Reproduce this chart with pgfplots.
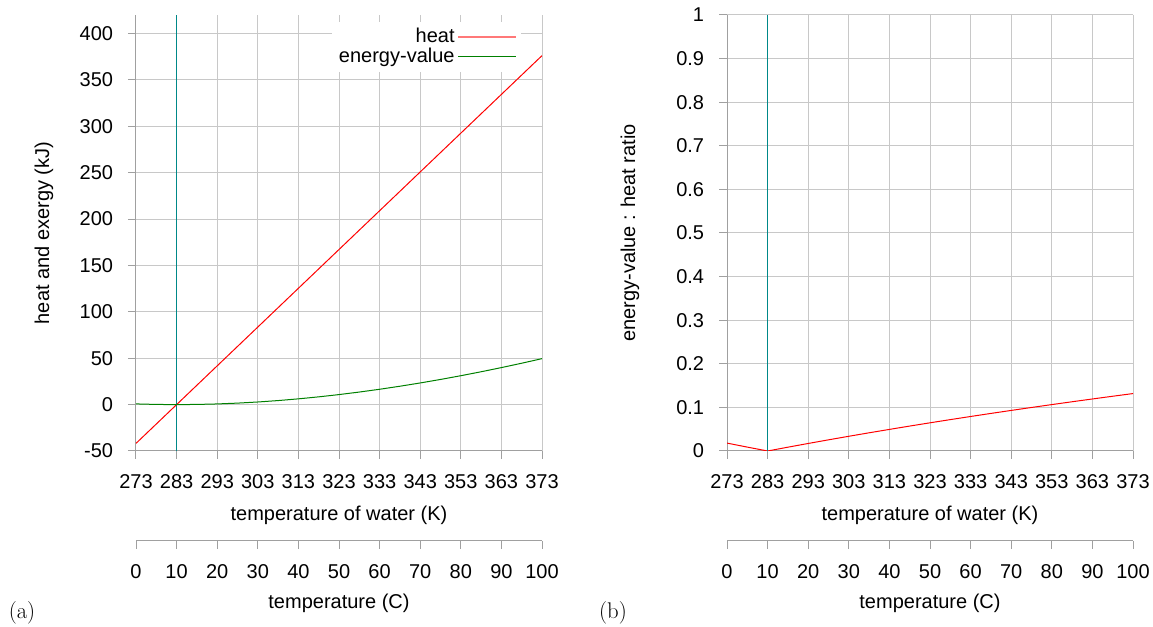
\documentclass[border=0pt]{standalone}
\usepackage{pgfplots}
\pgfplotsset{compat=1.18}
\usepackage{fontspec}
\setsansfont{Liberation Sans}

\definecolor{gridc}{RGB}{200,200,200}
\definecolor{axc}{RGB}{160,160,160}
\definecolor{tealc}{RGB}{0,136,136}
\definecolor{greenc}{RGB}{0,128,0}
\definecolor{redl}{RGB}{255,120,120}

\pgfplotstableread{
T heat exergy ratio
273 -41.80 0.757 0.01812
278 -20.90 0.187 0.00893
283 0.00 0.000 0.00000
288 20.90 0.183 0.00873
293 41.80 0.722 0.01726
298 62.70 1.605 0.02560
303 83.60 2.822 0.03375
308 104.50 4.361 0.04173
313 125.40 6.211 0.04953
318 146.30 8.364 0.05717
323 167.20 10.809 0.06465
328 188.10 13.537 0.07197
333 209.00 16.541 0.07914
338 229.90 19.811 0.08617
343 250.80 23.340 0.09306
348 271.70 27.120 0.09982
353 292.60 31.145 0.10644
358 313.50 35.407 0.11294
363 334.40 39.900 0.11932
368 355.30 44.617 0.12558
373 376.20 49.553 0.13172
}\datatable

\pgfplotsset{
  base/.style={
    scale only axis, width=304.5pt, height=327pt,
    axis lines=left, axis line style={-, draw=axc, line width=0.75pt},
    tick align=outside, major tick length=6pt,
    tick style={draw=axc, line width=0.75pt},
    grid=major, grid style={draw=gridc, line width=0.75pt},
    xmin=273, xmax=373,
    xtick={273,283,293,303,313,323,333,343,353,363,373},
    /pgf/number format/assume math mode=true,
    /pgf/number format/fixed,
    /pgf/number format/1000 sep={},
    tick label style={inner sep=0pt},
    xticklabel style={anchor=north, yshift=-11.75pt},
    yticklabel style={anchor=east, xshift=-11pt},
    xlabel={temperature of water (K)},
    xlabel style={at={(axis description cs:0.5,0)}, anchor=center, yshift=-48pt},
  },
  cel/.style={
    scale only axis, width=304.5pt, height=10pt,
    xmin=0, xmax=100, ymin=0, ymax=1,
    axis x line=bottom, axis y line=none,
    axis line style={-, draw=axc, line width=0.75pt},
    tick align=outside, major tick length=6pt,
    tick style={draw=axc, line width=0.75pt},
    xtick={0,10,20,30,40,50,60,70,80,90,100},
    /pgf/number format/assume math mode=true,
    tick label style={inner sep=0pt},
    xticklabel style={anchor=north, yshift=-11.75pt},
    xlabel={temperature (C)},
    xlabel style={at={(axis description cs:0.5,0)}, anchor=center, yshift=-46.5pt},
  },
}

\begin{document}
\sffamily\fontsize{15}{18}\selectfont
\begin{tikzpicture}
\path[use as bounding box] (0,0) rectangle (864.75pt,470.25pt);

% ---------- panel (b)
\begin{axis}[base, at={(545.25pt,132pt)}, anchor=south west,
  ymin=0, ymax=1,
  ytick={0,0.1,0.2,0.3,0.4,0.5,0.6,0.7,0.8,0.9,1},
  ylabel={energy-value : heat ratio},
  ylabel style={at={(axis description cs:-0.2389,0.5)}, anchor=center},
]
\addplot[draw=red, line width=0.75pt] table[x=T, y=ratio] {\datatable};
\addplot[fill=tealc, draw=none] coordinates {(282.84,1) (283.16,1)} \closedcycle;
\end{axis}

\begin{axis}[cel, at={(545.25pt,64.5pt)}, anchor=south west]
\addplot[draw=none] coordinates {(0,0) (100,0)};
\end{axis}

% ---------- panel (a)
\begin{axis}[base, at={(102pt,132pt)}, anchor=south west,
  ymin=-50, ymax=420,
  ytick={-50,0,50,100,150,200,250,300,350,400},
  ylabel={heat and exergy (kJ)},
  ylabel style={at={(axis description cs:-0.2266,0.5)}, anchor=center},
  legend style={at={(axis description cs:1,1)}, anchor=north east,
    xshift=-15.75pt, yshift=-4.75pt, draw=none, fill=white,
    inner sep=3pt, row sep=-2.25pt, font=\sffamily\fontsize{15}{15.75}\selectfont},
  legend cell align=right, legend plot pos=right,
  /tikz/every even column/.append style={column sep=5.5pt},
  legend image code/.code={\draw[#1] (0pt,0pt) -- (43.5pt,0pt);},
]
\addplot[draw=tealc, line width=1pt, forget plot] coordinates {(283,-50) (283,185) (283,420)};
\addplot[draw=red, line width=0.75pt, legend image post style={draw=redl, line width=1.1pt}] table[x=T, y=heat] {\datatable};
\addlegendentry{heat}
\addplot[draw=greenc, line width=0.75pt] table[x=T, y=exergy] {\datatable};
\addlegendentry{energy-value}
\end{axis}

\begin{axis}[cel, at={(102pt,64.5pt)}, anchor=south west]
\addplot[draw=none] coordinates {(0,0) (100,0)};
\end{axis}

\node[font=\rmfamily\fontsize{17}{20}\selectfont] at (16.5pt,10.5pt) {(a)};
\node[font=\rmfamily\fontsize{17}{20}\selectfont] at (459.75pt,10.5pt) {(b)};
\end{tikzpicture}
\end{document}
